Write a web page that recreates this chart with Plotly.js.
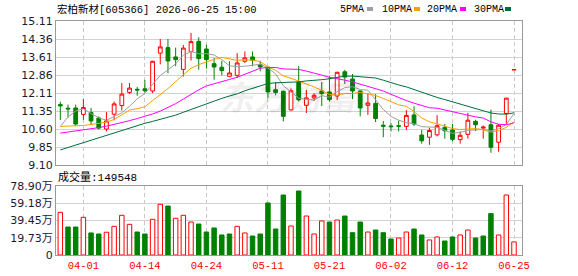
<!DOCTYPE html>
<html><head><meta charset="utf-8">
<script src="https://cdn.plot.ly/plotly-3.0.1.min.js"></script>
<style>html,body{margin:0;padding:0;background:#fff}#chart{width:578px;height:276px}</style>
</head><body><div id="chart"></div>
<script>
const dates = ['03-27','03-30','03-31','04-01','04-02','04-03','04-07','04-08','04-09','04-10','04-13','04-14','04-15','04-16','04-17','04-20','04-21','04-22','04-23','04-24','04-27','04-28','04-29','04-30','05-06','05-07','05-08','05-11','05-12','05-13','05-14','05-15','05-18','05-19','05-20','05-21','05-22','05-25','05-26','05-27','05-28','05-29','06-01','06-02','06-03','06-04','06-05','06-08','06-09','06-10','06-11','06-12','06-15','06-16','06-17','06-18','06-22','06-23','06-24','06-25'];
const openP = [11.62,11.47,11.48,11.21,11.29,11.06,10.60,11.22,11.58,12.13,12.26,12.28,12.19,13.77,14.00,13.61,13.09,13.84,14.26,13.94,13.33,13.18,12.80,12.84,13.43,13.61,13.29,13.18,12.24,12.18,11.40,12.56,11.59,11.90,12.19,12.15,11.98,12.99,12.69,12.19,11.59,11.67,10.76,10.73,10.74,10.71,11.19,10.35,10.26,10.36,10.67,10.56,10.16,10.38,10.92,10.64,10.78,10.05,11.25,13.07];
const highP = [11.74,11.62,11.62,11.85,11.48,11.13,11.31,11.75,12.52,12.52,12.36,12.65,13.45,14.36,14.36,14.00,14.11,14.61,14.43,14.12,13.57,13.45,13.43,13.77,13.84,13.84,13.45,13.20,12.56,12.20,12.30,13.23,12.23,12.10,12.56,12.81,12.99,13.07,12.90,12.20,12.10,12.06,10.94,10.85,10.95,11.39,11.55,10.57,10.65,11.18,10.81,10.81,10.50,11.27,10.99,10.75,11.41,10.81,11.90,13.08];
const lowP = [10.98,11.08,10.72,10.99,10.77,10.58,10.50,10.97,11.37,12.06,11.99,12.13,12.10,13.30,12.93,13.22,12.79,13.46,13.08,13.12,12.66,12.84,12.78,12.73,13.36,13.22,13.01,11.90,12.01,10.92,11.38,11.75,11.27,11.77,11.56,11.75,11.81,12.48,11.85,11.13,11.19,10.89,10.26,10.50,10.50,10.56,10.73,9.99,9.94,10.29,10.20,10.09,9.99,10.20,10.52,10.20,9.61,9.65,10.81,13.07];
const closeP = [11.57,11.44,10.81,11.50,10.94,10.64,10.94,11.65,12.06,12.31,12.23,12.20,13.43,14.03,13.44,13.50,13.98,14.25,13.54,13.50,13.19,13.04,12.94,13.36,13.57,13.47,13.19,12.15,12.13,11.13,12.20,11.82,11.90,12.01,12.08,11.83,12.97,12.77,12.19,11.48,11.69,11.04,10.72,10.70,10.72,11.17,10.81,10.11,10.54,10.74,10.53,10.17,10.34,10.97,10.78,10.68,9.84,10.76,11.89,13.08];
const prevClose = 11.30;
const volumeWan = [48.8,32.0,32.0,43.1,25.2,24.0,26.0,32.8,45.4,35.1,26.3,24.0,40.8,58.0,56.0,42.0,45.4,37.7,35.4,26.3,30.9,22.9,24.0,32.8,25.2,21.7,24.0,59.5,29.7,68.6,33.2,73.2,44.6,24.0,38.9,37.7,40.0,44.6,25.5,37.7,26.3,28.6,25.5,18.3,19.4,26.3,29.7,22.9,17.2,20.6,16.0,20.6,22.9,28.6,19.4,21.7,47.3,22.9,68.6,14.95];
const ma5 = [10.71,11.10,11.35,11.45,11.25,11.07,10.97,11.13,11.28,11.55,11.86,12.09,12.45,12.84,13.07,13.32,13.68,13.84,13.74,13.75,13.69,13.50,13.24,13.21,13.22,13.28,13.31,13.15,12.90,12.41,12.16,11.89,11.84,11.81,12.00,11.93,12.16,12.33,12.37,12.25,12.22,11.83,11.42,11.13,10.97,10.87,10.82,10.70,10.67,10.67,10.55,10.42,10.46,10.55,10.56,10.59,10.52,10.61,10.79,11.25];
const ma10 = [10.71,10.72,10.73,10.75,10.79,10.84,10.89,11.00,11.18,11.39,11.45,11.53,11.79,12.04,12.29,12.58,12.88,13.14,13.29,13.41,13.51,13.59,13.54,13.47,13.49,13.48,13.41,13.20,13.05,12.82,12.72,12.60,12.49,12.36,12.21,12.04,12.02,12.08,12.09,12.13,12.07,12.00,11.88,11.75,11.61,11.55,11.33,11.06,10.90,10.82,10.71,10.62,10.58,10.61,10.62,10.57,10.47,10.54,10.67,10.90];
const ma20 = [10.43,10.47,10.51,10.56,10.61,10.66,10.72,10.79,10.87,10.95,11.04,11.13,11.23,11.35,11.50,11.66,11.85,12.05,12.24,12.40,12.48,12.56,12.67,12.76,12.89,13.03,13.14,13.17,13.17,13.11,13.11,13.09,13.02,12.92,12.85,12.76,12.71,12.64,12.57,12.47,12.40,12.30,12.19,12.05,11.91,11.79,11.68,11.57,11.49,11.47,11.39,11.31,11.23,11.18,11.11,11.06,10.90,10.80,10.78,10.86];
const ma30 = [9.73,9.83,9.94,10.04,10.14,10.25,10.35,10.45,10.56,10.66,10.76,10.84,10.92,11.00,11.08,11.18,11.30,11.42,11.55,11.67,11.78,11.88,11.98,12.07,12.20,12.30,12.42,12.50,12.53,12.54,12.56,12.57,12.61,12.62,12.66,12.70,12.77,12.81,12.81,12.78,12.77,12.73,12.64,12.53,12.44,12.36,12.25,12.11,12.01,11.92,11.83,11.74,11.65,11.57,11.48,11.39,11.27,11.23,11.22,11.28];
const priceMin = 9.10, priceMax = 15.11;
const priceTickLabels = ['9.10','9.85','10.60','11.35','12.11','12.86','13.61','14.36','15.11'];
const volMax = 78.90;
const volTickLabels = ['0','19.73万','39.45万','59.18万','78.90万'];
const dateTicks = ['04-01','04-14','04-24','05-11','05-21','06-02','06-12','06-25'];
const maNames = ['5PMA','10PMA','20PMA','30PMA'];
const maColors = ['#a0a0a0','#f5a200','#ff00ff','#00703a'];
const titleText = '宏柏新材[605366] 2026-06-25 15:00';
const lastVolText = '成交量:149548';

const W = 578, H = 276;
const L = 56, R = 522, mainTop = 21, mainBot = 165, volTop = 186, volBot = 255;
const red = '#ff0000', green = '#008000';
const mono = "'Liberation Mono', 'Noto Sans CJK SC', monospace";
const priceTickVals = priceTickLabels.map((_, k) => priceMin + k * (priceMax - priceMin) / 8);
const volTickVals = volTickLabels.map((_, k) => k * volMax / 4);

const volUp = closeP.map((c, i) => c > (i === 0 ? prevClose : closeP[i - 1]));

const traces = [
  {type: 'candlestick', x: dates, open: openP, high: highP, low: lowP, close: closeP,
   xaxis: 'x', yaxis: 'y', whiskerwidth: 0, hoverinfo: 'skip', showlegend: false,
   increasing: {line: {color: red, width: 1}, fillcolor: '#ffffff'},
   decreasing: {line: {color: green, width: 1}, fillcolor: green}},
];
[ma5, ma10, ma20, ma30].forEach((m, k) => traces.push({
  type: 'scatter', mode: 'lines', x: dates, y: m, xaxis: 'x', yaxis: 'y',
  line: {color: maColors[k], width: 1}, hoverinfo: 'skip', showlegend: false}));
traces.push({type: 'bar', x: dates, y: volumeWan, xaxis: 'x2', yaxis: 'y2', width: 0.58,
  marker: {color: volUp.map(u => u ? '#ffffff' : green), line: {color: volUp.map(u => u ? red : green), width: 1}},
  hoverinfo: 'skip', showlegend: false});

const px = x => x / W, py = y => 1 - y / H;
const annotations = [
  {text: titleText, x: px(55), y: py(9), xref: 'paper', yref: 'paper', xanchor: 'left', yanchor: 'middle', showarrow: false, font: {family: mono, size: 10.5, color: '#000'}},
  {text: lastVolText, x: px(56), y: py(177), xref: 'paper', yref: 'paper', xanchor: 'left', yanchor: 'middle', showarrow: false, font: {family: mono, size: 11, color: '#000'}},
  {text: '东方财富', x: px(290), y: py(95), xref: 'paper', yref: 'paper', xanchor: 'center', yanchor: 'middle', showarrow: false, font: {family: "'Noto Sans CJK SC'", size: 34, color: 'rgba(0,0,0,0.07)', weight: 'bold', style: 'italic'}},
];
const legendX = [338, 380, 425, 472], squareX = [367, 414, 460, 505];
const shapes = [];
maNames.forEach((n, k) => {
  annotations.push({text: n, x: px(legendX[k]), y: py(9), xref: 'paper', yref: 'paper', xanchor: 'left', yanchor: 'middle', showarrow: false, font: {family: mono, size: 10, color: '#000'}});
  shapes.push({type: 'rect', xref: 'paper', yref: 'paper', x0: px(squareX[k]), x1: px(squareX[k] + 6), y0: py(11), y1: py(7), fillcolor: maColors[k], line: {width: 0}});
});

const gridH = '#d2d2d2';
const layout = {
  width: W, height: H, margin: {l: 0, r: 0, t: 0, b: 0}, paper_bgcolor: '#fff', plot_bgcolor: '#fff',
  showlegend: false, bargap: 0, boxgap: 0.3, annotations, shapes,
  xaxis: {domain: [px(L), px(R)], anchor: 'y', type: 'category', range: [-0.56, 60.04], tickvals: dateTicks,
    showticklabels: false, ticks: '', showgrid: true, gridcolor: '#c8c8c8', griddash: '4px,3px', gridwidth: 1,
    showline: true, mirror: true, linecolor: '#999', linewidth: 1, zeroline: false, rangeslider: {visible: false}, fixedrange: true},
  yaxis: {domain: [py(mainBot), py(mainTop)], anchor: 'x', range: [priceMin, priceMax], tickvals: priceTickVals, ticktext: priceTickLabels,
    ticks: '', showgrid: true, gridcolor: gridH, showline: true, mirror: true, linecolor: '#999', zeroline: false,
    tickfont: {family: "'DejaVu Sans'", size: 11, color: '#1a1a33'}, fixedrange: true},
  xaxis2: {domain: [px(L), px(R)], anchor: 'y2', type: 'category', matches: 'x', range: [-0.56, 60.04], tickvals: dateTicks, ticktext: dateTicks,
    ticks: '', showgrid: true, gridcolor: '#c8c8c8', griddash: '4px,3px', showline: true, mirror: true, linecolor: '#999', zeroline: false,
    tickfont: {family: mono, size: 10.5, color: red}, tickangle: 0, fixedrange: true},
  yaxis2: {domain: [py(volBot), py(volTop)], anchor: 'x2', range: [0, volMax], tickvals: volTickVals, ticktext: volTickLabels,
    ticks: '', showgrid: true, gridcolor: gridH, showline: true, mirror: true, linecolor: '#999', zeroline: false,
    tickfont: {family: "'DejaVu Sans', 'Noto Sans CJK SC'", size: 11, color: '#1a1a33'}, fixedrange: true},
};
Plotly.newPlot('chart', traces, layout, {staticPlot: true, displayModeBar: false});
</script></body></html>
